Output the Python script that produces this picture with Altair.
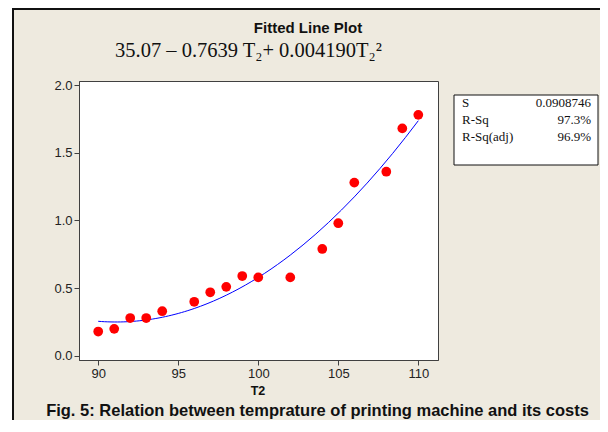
import altair as alt
import pandas as pd

# ---- data ----
t2 = [90, 91, 92, 93, 94, 96, 97, 98, 99, 100, 102, 104, 105, 106, 108, 109, 110]
cost = [0.18, 0.20, 0.28, 0.28, 0.33, 0.40, 0.47, 0.51, 0.59, 0.58, 0.58, 0.79, 0.98, 1.28, 1.36, 1.68, 1.78]
x_ticks = [90, 95, 100, 105, 110]
y_ticks = [0.0, 0.5, 1.0, 1.5, 2.0]
title_text = "Fitted Line Plot"
equation_text = "35.07 – 0.7639 T₂+ 0.004190T₂²"
stat_names = ["S", "R-Sq", "R-Sq(adj)"]
stat_values = ["0.0908746", "97.3%", "96.9%"]
x_title = "T2"
caption = "Fig. 5: Relation between temprature of printing machine and its costs"

df = pd.DataFrame({"T2": t2, "Cost": cost})
one = pd.DataFrame({"k": [0]})

W, H = 359, 279
PAD = {"left": 71, "top": 73, "right": 162, "bottom": 60}
BOTTOM = H + PAD["bottom"]
RIGHT = W + PAD["right"]

xs = alt.Scale(domain=[88.8, 111.23], nice=False, zero=False)
ys = alt.Scale(domain=[-0.03, 2.03], nice=False, zero=False)
xax = alt.Axis(values=x_ticks, title=None, grid=False)
yax = alt.Axis(values=y_ticks, title=None, grid=False, format=".1f")

fit = alt.Chart(df).transform_regression(
    "T2", "Cost", method="poly", order=2, extent=[90, 110]
).mark_line(color="#0000ff", strokeWidth=1).encode(
    x=alt.X("T2:Q", scale=xs, axis=xax),
    y=alt.Y("Cost:Q", scale=ys, axis=yax),
)

points = alt.Chart(df).mark_circle(size=95, color="#ff0000", opacity=1).encode(
    x=alt.X("T2:Q", scale=xs, axis=xax),
    y=alt.Y("Cost:Q", scale=ys, axis=yax),
)

base = alt.Chart(one)

white_strip = base.mark_rect(fill="white").encode(
    x=alt.value(-71), x2=alt.value(-67), y=alt.value(-73), y2=alt.value(BOTTOM)
)
left_line = base.mark_rule(color="#111111", strokeWidth=2).encode(
    x=alt.value(-66), y=alt.value(-73), y2=alt.value(BOTTOM)
)
top_line = base.mark_rule(color="#111111", strokeWidth=2).encode(
    x=alt.value(-67), x2=alt.value(RIGHT), y=alt.value(-72)
)

title = base.mark_text(font="Liberation Sans", fontWeight="bold", fontSize=15,
                       align="center", baseline="middle", color="#111111").encode(
    x=alt.value(229), y=alt.value(-53), text=alt.value(title_text)
)
equation = base.mark_text(font="Liberation Serif", fontSize=20.5,
                          align="left", baseline="alphabetic", color="#111111").encode(
    x=alt.value(36), y=alt.value(-24), text=alt.value(equation_text)
)

stat_box = base.mark_rect(fill="white", stroke="#111111", strokeWidth=1).encode(
    x=alt.value(375), x2=alt.value(519), y=alt.value(14), y2=alt.value(84)
)
stat_layers = []
for i, (n, v) in enumerate(zip(stat_names, stat_values)):
    yy = 22 + 17 * i
    stat_layers.append(base.mark_text(font="Liberation Serif", fontSize=13, align="left",
                                      baseline="middle", color="#111111").encode(
        x=alt.value(383), y=alt.value(yy), text=alt.value(n)))
    stat_layers.append(base.mark_text(font="Liberation Serif", fontSize=13, align="right",
                                      baseline="middle", color="#111111").encode(
        x=alt.value(512), y=alt.value(yy), text=alt.value(v)))

xlabel = base.mark_text(font="Liberation Sans", fontWeight="bold", fontSize=12.5,
                        align="center", baseline="middle", color="#111111").encode(
    x=alt.value(179), y=alt.value(310), text=alt.value(x_title)
)
cap = base.mark_text(font="Liberation Sans", fontWeight="bold", fontSize=16.5,
                     align="center", baseline="middle", color="#111111").encode(
    x=alt.value(238.5), y=alt.value(329.5), text=alt.value(caption)
)

chart = alt.layer(
    white_strip, left_line, top_line, title, equation, stat_box, *stat_layers,
    xlabel, cap, fit, points
).properties(
    width=W, height=H, padding=PAD, autosize=alt.AutoSizeParams(type="none"),
    background="#EEEADF"
).configure_view(
    fill="white", stroke="#404040", strokeWidth=1
).configure_axis(
    domainColor="#404040", tickColor="#404040", labelColor="#222222",
    labelFont="Liberation Sans", labelFontSize=13, tickSize=5, labelPadding=2,
    domainWidth=1
)

chart.save("out.html", embed_options={"renderer": "svg", "actions": False})
